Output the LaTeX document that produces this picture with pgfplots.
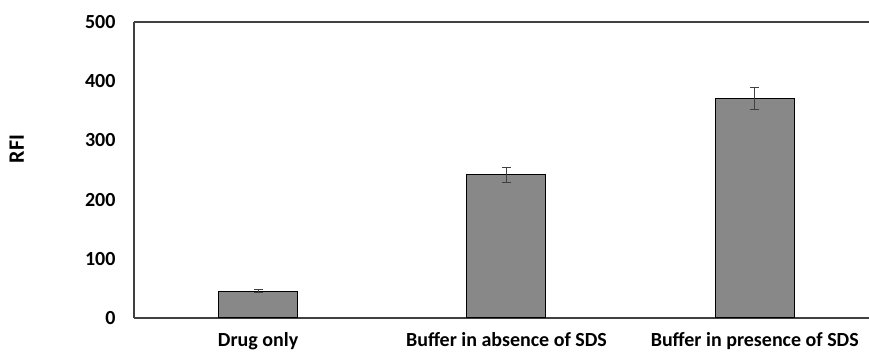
\documentclass[border=0pt]{standalone}
\usepackage{fontspec}
\setmainfont{Carlito}
\usepackage{pgfplots}
\pgfplotsset{compat=1.18}
\definecolor{barfill}{RGB}{136,136,136}
\definecolor{axcol}{RGB}{64,64,64}
\begin{document}
\begin{tikzpicture}
\begin{axis}[
  name=ax,
  scale only axis,
  width=735pt, height=296pt,
  xmin=-0.5, xmax=2.46,
  ymin=0, ymax=500,
  ytick={0,100,200,300,400,500},
  xtick={0,1,2},
  xticklabels={Drug only, Buffer in absence of SDS, Buffer in presence of SDS},
  axis x line*=bottom,
  axis y line*=left,
  axis line style={axcol, line width=1.3pt},
  tick style={draw=none},
  ticklabel style={font=\fontsize{20}{22}\selectfont\bfseries},
  /pgf/number format/assume math mode=true,
  yticklabel style={xshift=-15pt},
  xticklabel style={yshift=-11pt},
  ylabel={RFI},
  ylabel style={font=\fontsize{22}{24}\selectfont\bfseries, at={(axis description cs:-0.1595,0.571)}, anchor=center},
  clip=false,
]
\addplot[ybar, bar width=79pt, fill=barfill, draw=black, line width=1pt,
  error bars/.cd, y dir=both, y explicit,
  error bar style={axcol, line width=1.2pt},
  error mark options={rotate=90, mark size=4.5pt, line width=1.2pt, axcol}]
  coordinates {(0,45.6) +- (0,2) (1,242) +- (0,12.5) (2,371) +- (0,18.7)};
\draw[axcol, line width=1.3pt] (rel axis cs:0,1) -- (rel axis cs:1,1);
\end{axis}
\pgfresetboundingbox
\path[use as bounding box] ([xshift=-134pt,yshift=-34pt]ax.south west) rectangle ([yshift=22pt]ax.north east);
\end{tikzpicture}
\end{document}
